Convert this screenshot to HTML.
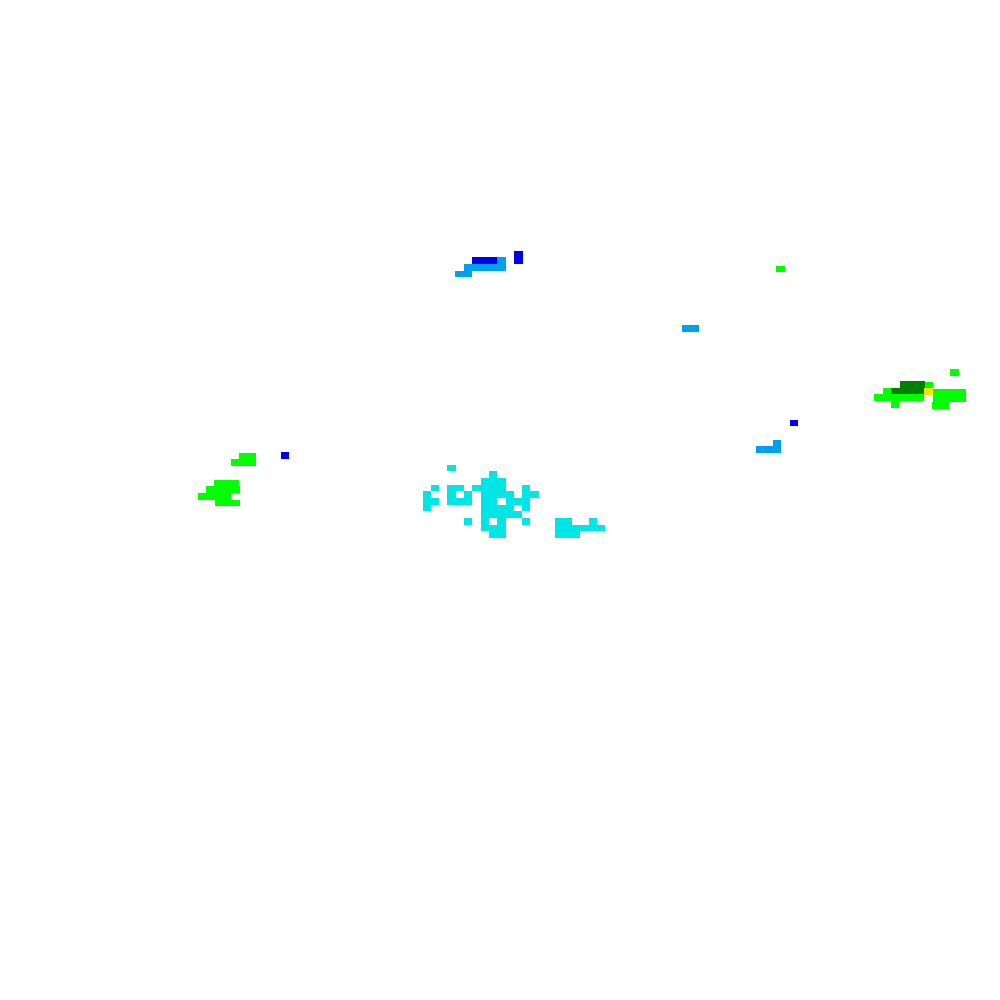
<!DOCTYPE html>
<html><head><style>
html,body{margin:0;padding:0;background:#fff;width:1000px;height:1000px;overflow:hidden;position:relative}
i{position:absolute;display:block}
.c{background:#00e6e6}.g{background:#00ff00}.d{background:#008000}.b{background:#0000f0}.l{background:#00a0f0}.y{background:#ffe600}
</style></head><body>
<!-- top blue -->
<i class="b" style="left:472px;top:257px;width:25px;height:7px"></i>
<i class="l" style="left:497px;top:257px;width:9px;height:7px"></i>
<i class="l" style="left:464px;top:264px;width:42px;height:7px"></i>
<i class="l" style="left:455px;top:271px;width:17px;height:6px"></i>
<i class="b" style="left:514px;top:251px;width:9px;height:13px"></i>
<!-- scattered -->
<i class="g" style="left:776px;top:266px;width:9px;height:6px"></i>
<i class="l" style="left:682px;top:325px;width:17px;height:7px"></i>
<i class="b" style="left:790px;top:420px;width:8px;height:6px"></i>
<i class="l" style="left:773px;top:440px;width:8px;height:7px"></i>
<i class="l" style="left:756px;top:446px;width:25px;height:7px"></i>
<!-- left green -->
<i class="g" style="left:239px;top:453px;width:17px;height:6px"></i>
<i class="g" style="left:231px;top:459px;width:25px;height:7px"></i>
<i class="b" style="left:281px;top:452px;width:8px;height:7px"></i>
<i class="g" style="left:214px;top:480px;width:25px;height:6px"></i>
<i class="g" style="left:206px;top:486px;width:34px;height:7px"></i>
<i class="g" style="left:198px;top:493px;width:33px;height:7px"></i>
<i class="g" style="left:215px;top:500px;width:25px;height:6px"></i>
<!-- right green -->
<i class="d" style="left:900px;top:381px;width:25px;height:14px"></i>
<i class="d" style="left:891px;top:388px;width:9px;height:7px"></i>
<i class="g" style="left:925px;top:382px;width:8px;height:6px"></i>
<i class="y" style="left:924px;top:388px;width:9px;height:7px"></i>
<i class="g" style="left:883px;top:388px;width:8px;height:6px"></i>
<i class="g" style="left:874px;top:394px;width:50px;height:7px"></i>
<i class="g" style="left:891px;top:401px;width:8px;height:7px"></i>
<i class="g" style="left:933px;top:389px;width:33px;height:13px"></i>
<i class="g" style="left:932px;top:402px;width:17px;height:7px"></i>
<i class="g" style="left:950px;top:369px;width:9px;height:7px"></i>
<!-- cyan cluster -->
<i class="c" style="left:447px;top:465px;width:9px;height:6px"></i>
<i class="c" style="left:489px;top:471px;width:8px;height:7px"></i>
<i class="c" style="left:481px;top:478px;width:25px;height:7px"></i>
<i class="c" style="left:431px;top:485px;width:8px;height:6px"></i>
<i class="c" style="left:447px;top:485px;width:17px;height:6px"></i>
<i class="c" style="left:472px;top:485px;width:34px;height:6px"></i>
<i class="c" style="left:522px;top:485px;width:8px;height:6px"></i>
<i class="c" style="left:423px;top:491px;width:8px;height:7px"></i>
<i class="c" style="left:447px;top:491px;width:9px;height:7px"></i>
<i class="c" style="left:464px;top:491px;width:8px;height:7px"></i>
<i class="c" style="left:481px;top:491px;width:33px;height:7px"></i>
<i class="c" style="left:522px;top:491px;width:17px;height:7px"></i>
<i class="c" style="left:423px;top:498px;width:16px;height:7px"></i>
<i class="c" style="left:447px;top:498px;width:25px;height:7px"></i>
<i class="c" style="left:481px;top:498px;width:16px;height:7px"></i>
<i class="c" style="left:506px;top:498px;width:24px;height:7px"></i>
<i class="c" style="left:423px;top:505px;width:8px;height:6px"></i>
<i class="c" style="left:481px;top:505px;width:33px;height:6px"></i>
<i class="c" style="left:522px;top:505px;width:8px;height:6px"></i>
<i class="c" style="left:481px;top:511px;width:41px;height:7px"></i>
<i class="c" style="left:464px;top:518px;width:8px;height:7px"></i>
<i class="c" style="left:481px;top:518px;width:8px;height:7px"></i>
<i class="c" style="left:497px;top:518px;width:9px;height:7px"></i>
<i class="c" style="left:522px;top:518px;width:8px;height:7px"></i>
<i class="c" style="left:555px;top:518px;width:17px;height:7px"></i>
<i class="c" style="left:589px;top:518px;width:8px;height:7px"></i>
<i class="c" style="left:481px;top:525px;width:25px;height:6px"></i>
<i class="c" style="left:555px;top:525px;width:50px;height:6px"></i>
<i class="c" style="left:489px;top:531px;width:17px;height:7px"></i>
<i class="c" style="left:555px;top:531px;width:25px;height:7px"></i>
</body></html>
